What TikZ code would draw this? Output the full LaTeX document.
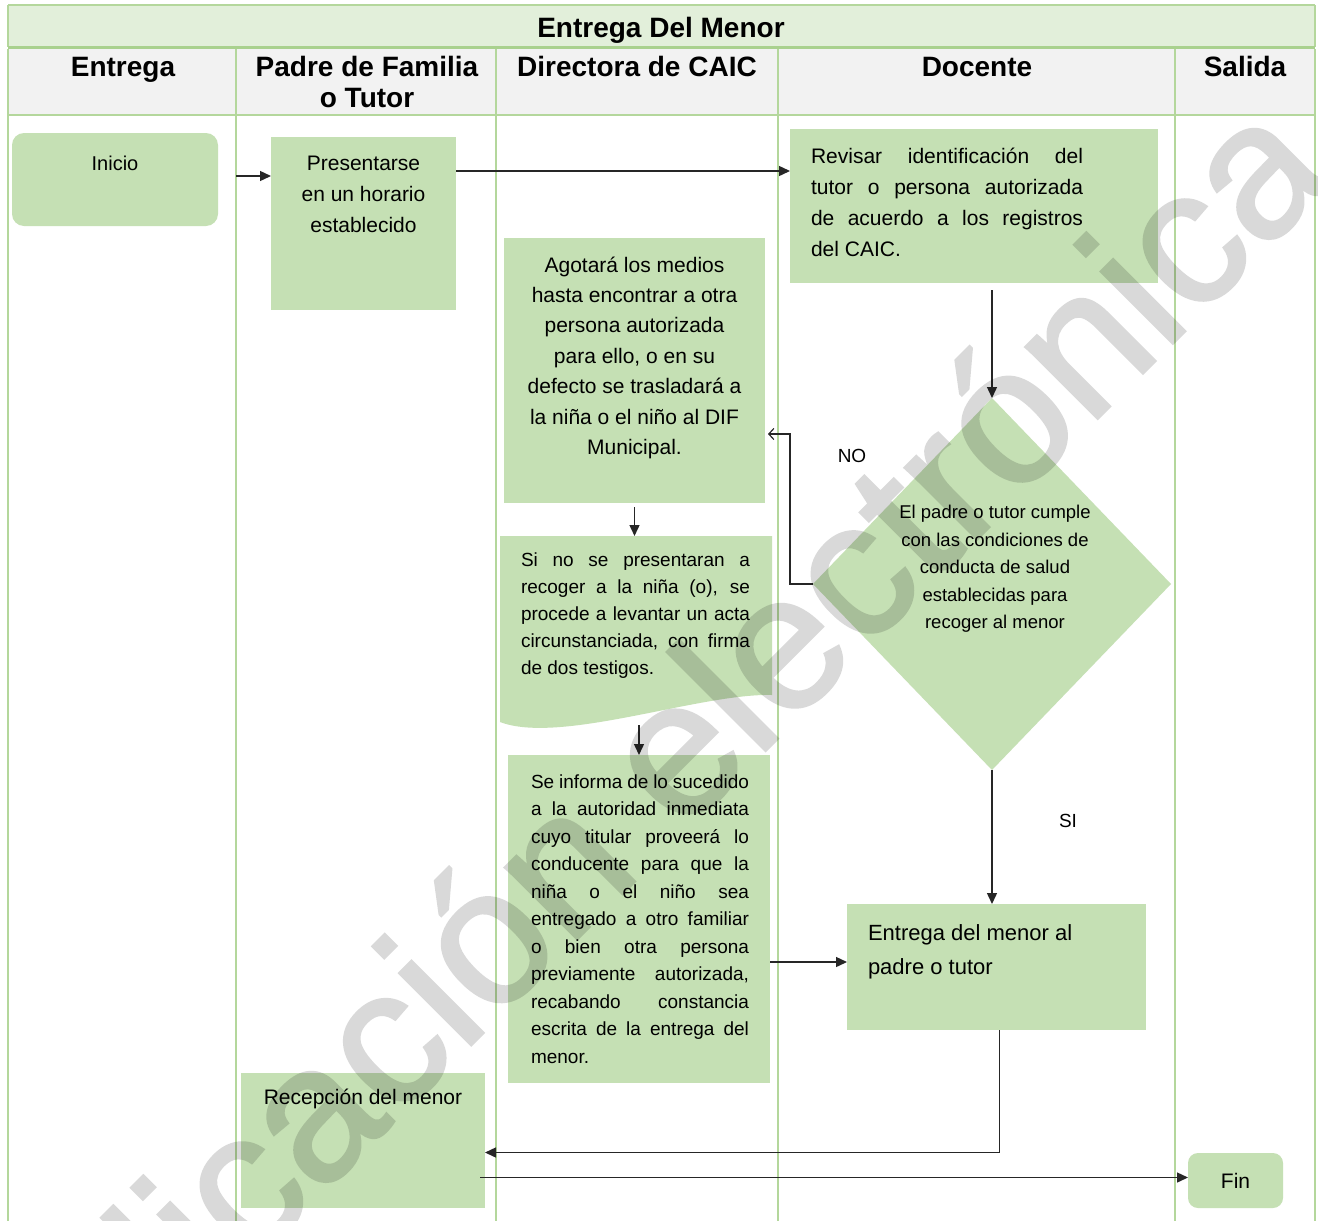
\documentclass[tikz,border=0pt]{standalone}
\usepackage{fontspec}
\setmainfont{Liberation Sans}
\newfontfamily\markfont[FakeBold=1.5]{Liberation Sans}
\usetikzlibrary{arrows.meta,shapes.geometric,calc,backgrounds}
\definecolor{boxgreen}{HTML}{C5E0B4}
\definecolor{titlegreen}{HTML}{E2EFDA}
\definecolor{headgray}{HTML}{F2F2F2}
\definecolor{lanegreen}{HTML}{B4D79C}
\definecolor{rulegreen}{HTML}{A9D18E}
% top-aligned text block of fixed size: height, width, first baseline, body
\newcommand{\toptext}[4]{\parbox[c][#1][t]{#2}{\rule{0pt}{#3}#4}}
% one justified line of given width
\newcommand{\jl}[2]{\makebox[#1][s]{#2}}
\begin{document}
\begin{tikzpicture}[x=1pt,y=1pt,
  box/.style={fill=boxgreen, draw=none, inner sep=0pt, outer sep=0pt},
  headtxt/.style={font=\fontsize{28}{31}\selectfont\bfseries, inner sep=0pt, anchor=base},
  lbl/.style={font=\fontsize{19}{23}\selectfont, inner sep=0pt},
  flow/.style={-{Triangle[length=11pt,width=10pt]}, line width=1.4pt, draw=black!85},
  noflow/.style={-{Straight Barb[length=5pt,width=11pt]}, line width=1.2pt, draw=black!85},
  lane/.style={draw=lanegreen, line width=1.2pt}]
\useasboundingbox (0,0) rectangle (1318,-1221);

% ---- headings
\node[headtxt] (title) at (661,-37) {Entrega Del Menor};
\node[headtxt] (hEntrega) at (123,-76) {Entrega};
\node[headtxt] (hPadre) at (367,-76) {Padre de Familia};
\node[headtxt] (hTutor) at (367,-107) {o Tutor};
\node[headtxt] (hDirectora) at (637,-76) {Directora de CAIC};
\node[headtxt] (hDocente) at (977,-76) {Docente};
\node[headtxt] (hSalida) at (1245,-76) {Salida};

% ---- process boxes
\node[box, rounded corners=12pt, minimum width=206, minimum height=93] (inicio) at (115,-179.5)
  {\toptext{93pt}{206pt}{37pt}{\fontsize{20}{28}\selectfont\centering Inicio}};

\node[box, minimum width=185, minimum height=173] (presentarse) at (363.5,-223.5)
  {\toptext{173pt}{185pt}{33pt}{\fontsize{21}{31}\selectfont\centering Presentarse\\en un horario\\establecido}};

\node[box, minimum width=368, minimum height=154] (revisar) at (974,-206)
  {\toptext{154pt}{368pt}{34pt}{\fontsize{21}{31}\selectfont\leftskip=21pt\rightskip=0pt plus 1fil\relax
   \jl{272pt}{Revisar identificación del}\\
   \jl{272pt}{tutor o persona autorizada}\\
   \jl{272pt}{de acuerdo a los registros}\\
   del CAIC.}};

\node[box, minimum width=261, minimum height=265] (agotara) at (634.5,-370.5)
  {\toptext{265pt}{261pt}{34pt}{\fontsize{21}{30.4}\selectfont\centering Agotará los medios\\hasta encontrar a otra\\persona autorizada\\para ello, o en su\\defecto se trasladará a\\la niña o el niño al DIF\\Municipal.}};

\node[inner sep=0pt, outer sep=0pt, minimum width=272, minimum height=186] (sino) at (636,-629)
  {\toptext{186pt}{272pt}{30pt}{\fontsize{19}{27}\selectfont\leftskip=21pt\rightskip=0pt plus 1fil\relax
   \jl{229pt}{Si no se presentaran a}\\
   \jl{229pt}{recoger a la niña (o), se}\\
   \jl{229pt}{procede a levantar un acta}\\
   \jl{229pt}{circunstanciada, con firma}\\
   de dos testigos.}};

\node[box, minimum width=262, minimum height=328] (seinf) at (639,-919)
  {\toptext{328pt}{262pt}{33pt}{\fontsize{19}{27.5}\selectfont\leftskip=23pt\rightskip=0pt plus 1fil\relax
   \jl{218pt}{Se informa de lo sucedido}\\
   \jl{218pt}{a la autoridad inmediata}\\
   \jl{218pt}{cuyo titular proveerá lo}\\
   \jl{218pt}{conducente para que la}\\
   \jl{218pt}{niña o el niño sea}\\
   \jl{218pt}{entregado a otro familiar}\\
   \jl{218pt}{o bien otra persona}\\
   \jl{218pt}{previamente autorizada,}\\
   \jl{218pt}{recabando constancia}\\
   \jl{218pt}{escrita de la entrega del}\\
   menor.}};

\node[box, diamond, minimum width=358, minimum height=372] (cond) at (992,-584) {};
\node[font=\fontsize{18.5}{27.5}\selectfont, align=center, inner sep=0pt] (condtext) at (995,-569)
  {El padre o tutor cumple\\con las condiciones de\\conducta de salud\\establecidas para\\recoger al menor};

\node[box, minimum width=299, minimum height=126] (entrega) at (996.5,-967)
  {\toptext{126pt}{299pt}{36pt}{\fontsize{22}{34}\selectfont\leftskip=21pt\rightskip=0pt plus 1fil\relax
   Entrega del menor al\\padre o tutor}};

\node[box, minimum width=244, minimum height=135] (recepcion) at (363,-1140.5)
  {\toptext{135pt}{244pt}{31pt}{\fontsize{21}{28}\selectfont\centering Recepción del menor}};

\node[box, rounded corners=10pt, minimum width=95, minimum height=55,
  font=\fontsize{21}{25}\selectfont] (fin) at (1235.5,-1180.5) {Fin};

% ---- branch labels
\node[lbl] (lblNo) at (852,-456) {NO};
\node[lbl] (lblSi) at (1068,-821) {SI};

% ---- connectors
\draw[flow] ([shift={(18pt,3.5pt)}]inicio.east) -- ([yshift=3.5pt]inicio.east -| presentarse.west);
\draw[flow] ([yshift=-34pt]presentarse.north east) -- ([yshift=-34pt]presentarse.north east -| revisar.west);
\draw[flow, shorten <=7pt] (revisar.south -| cond.north) -- (cond.north);
\draw[noflow] (cond.west) -| ($(agotara.east)+(25,-63.5)$) -- ($(agotara.east)+(3,-63.5)$);
\draw[flow, shorten <=4pt] (agotara.south) -- (agotara.south |- sino.north);
\draw[flow, shorten <=3pt] (sino.south -| seinf.north) -- (seinf.north);
\draw[flow] (cond.south) -- (cond.south |- entrega.north);
\draw[flow] (seinf.east |- entrega.west) ++(0,5) -- ([yshift=5pt]entrega.west);
\draw[flow] ([xshift=3pt]entrega.south) |- ([yshift=-12pt]recepcion.east);
\draw[flow, shorten <=-5pt] ([yshift=3pt]recepcion.east |- fin.west) -- ([yshift=3pt]fin.west);

% ---- watermark, composited as one translucent layer
\begin{scope}[transparency group, opacity=0.15]
\clip (0,0) rectangle (1318,-1221);
\node[rotate=45, anchor=base west, inner sep=0pt, text=black,
  font=\markfont\fontsize{192}{200}\selectfont] (marca) at (-51,-1567) {Publicación electrónica};
\end{scope}

% ---- frame, lanes and the wavy document shape underneath everything
\begin{scope}[on background layer]
\fill[white] (0,0) rectangle (1318,-1221);
\fill[titlegreen] (8,-5) rectangle (1315,-47);
\fill[headgray] (8,-49) rectangle (1315,-115);
\draw[lane] (8,-5) -- (1315,-5);
\draw[lane] (8,-5) -- (8,-47);
\draw[lane] (1315,-5) -- (1315,-47);
\draw[draw=rulegreen, line width=3pt] (8,-47.5) -- (1315,-47.5);
\draw[lane] (8,-115) -- (1315,-115);
\foreach \x in {8,236,496,778,1175,1315} \draw[lane] (\x,-49) -- (\x,-1221);
\fill[boxgreen] (sino.north west) -- (sino.north east) -- ([yshift=27pt]sino.south east)
  .. controls ([shift={(-72pt,29pt)}]sino.south east) and ([shift={(60pt,-23pt)}]sino.south west)
  .. (sino.south west) -- cycle;
\end{scope}
\end{tikzpicture}
\end{document}
